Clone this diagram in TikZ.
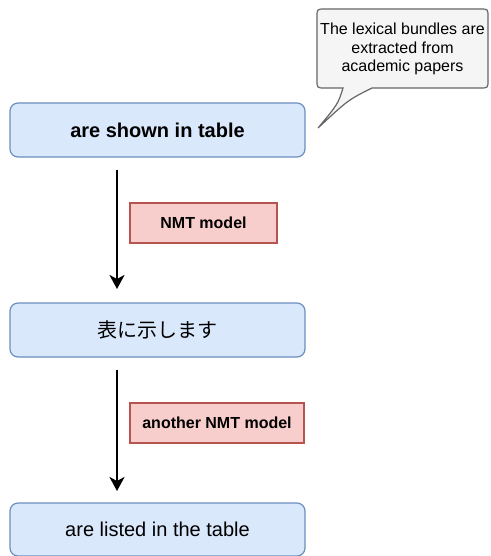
\documentclass[tikz,border=0pt]{standalone}
\usepackage{fontspec}
\setmainfont{Liberation Sans}
\newfontfamily\jpfont{Noto Sans CJK JP}
\usetikzlibrary{arrows.meta}
\definecolor{bluefill}{HTML}{DAE8FC}
\definecolor{bluedraw}{HTML}{6C8EBF}
\definecolor{redfill}{HTML}{F8CECC}
\definecolor{reddraw}{HTML}{B85450}
\definecolor{grayfill}{HTML}{F5F5F5}
\definecolor{graydraw}{HTML}{666666}
\begin{document}
\begin{tikzpicture}[x=1pt,y=-1pt,
  bluebox/.style={draw=bluedraw,fill=bluefill,line width=1.2pt,rounded corners=8pt,
    minimum width=295pt,minimum height=54pt,inner sep=0pt,font=\fontsize{20}{24}\selectfont},
  redbox/.style={draw=reddraw,fill=redfill,line width=1.2pt,minimum height=40pt,inner sep=0pt,
    font=\fontsize{16}{19}\selectfont\bfseries},
  flow/.style={line width=2.5pt,-{Stealth[length=14pt,width=15pt,inset=4pt]}},
  calloutstyle/.style={draw=graydraw,fill=grayfill,line width=1.2pt}]
\useasboundingbox (0,0) rectangle (490,556);
\node[bluebox,font=\fontsize{20}{24}\selectfont\bfseries] (b1) at (157.5,130) {are shown in table};
\node[bluebox] (b2) at (157.5,330) {\jpfont 表に示します};
\node[bluebox,minimum height=53pt] (b3) at (157.5,529.5) {are listed in the table};
\node[redbox,minimum width=147pt] (r1) at (203.5,223) {NMT model};
\node[redbox,minimum width=174pt] (r2) at (217,423) {another NMT model};
\coordinate (a1s) at (117,170);
\coordinate (a1e) at (117,289);
\coordinate (a2s) at (117,370);
\coordinate (a2e) at (117,491);
\draw[flow] (a1s) -- (a1e);
\draw[flow] (a2s) -- (a2e);
\path[calloutstyle] (480,88) .. controls (488,88) .. (488,80) -- (488,17)
  .. controls (488,9) .. (480,9) -- (325,9) .. controls (317,9) .. (317,17)
  -- (317,80) .. controls (317,88) .. (325,88) -- (343,88)
  .. controls (338,104) .. (318,128) .. controls (348,100) .. (372,88) -- cycle;
\node[align=center,font=\fontsize{16}{18.5}\selectfont,inner sep=0pt] (c) at (402.5,49)
  {The lexical bundles are\\extracted from\\academic papers};
\end{tikzpicture}
\end{document}
